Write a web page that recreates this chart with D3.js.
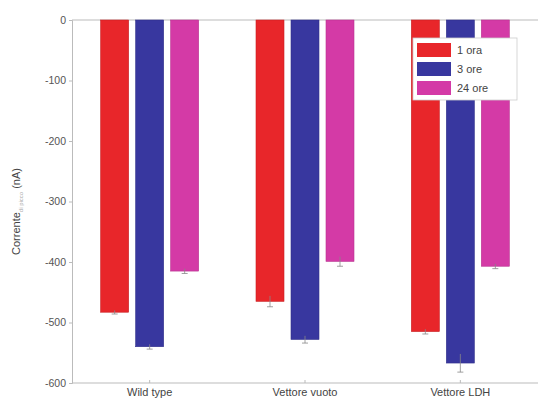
<!DOCTYPE html>
<html>
<head>
<meta charset="utf-8">
<script src="https://cdn.jsdelivr.net/npm/d3@7"></script>
<style>
  body { margin: 0; background: #fff; }
  svg { font-family: "Liberation Sans", Arial, sans-serif; }
</style>
</head>
<body>
<div id="chart"></div>
<script>
// Data
var groups = ["Wild type", "Vettore vuoto", "Vettore LDH"];
var seriesNames = ["1 ora", "3 ore", "24 ore"];
var values1h = [-483, -465, -515];
var values3h = [-540, -528, -567];
var values24h = [-415, -399, -407];
var err1h = [3, 9, 4];
var err3h = [4, 6, 15];
var err24h = [4, 8, 4];
var yTicks = [0, -100, -200, -300, -400, -500, -600];
var colors = ["#e8262a", "#38379f", "#d43aa6"];

var svgWidth = 538;
var svgHeight = 402;
var margin = { top: 20, right: 0, bottom: 19, left: 72 };
var chartWidth = svgWidth - margin.left - margin.right;
var chartHeight = svgHeight - margin.top - margin.bottom;
var groupSpan = 98;

var svg = d3.select("#chart").append("svg")
            .attr("width", svgWidth)
            .attr("height", svgHeight);

var chartGroup = svg.append("g")
                    .attr("transform", `translate(${margin.left}, ${margin.top})`);

// Scales
var x0 = d3.scaleBand().domain(groups).range([0, chartWidth]).padding(0);
var x1 = d3.scaleBand().domain(seriesNames).range([0, groupSpan]).paddingInner(0.2);
var yScale = d3.scaleLinear().domain([-600, 0]).range([chartHeight, 0]);

// Build rows
var allValues = [values1h, values3h, values24h];
var allErr = [err1h, err3h, err24h];
var rows = [];
groups.forEach(function(g, i) {
  seriesNames.forEach(function(s, j) {
    rows.push({ group: g, series: s, idx: j, value: allValues[j][i], err: allErr[j][i] });
  });
});

// Axis frame lines (top and bottom)
chartGroup.append("line")
  .attr("x1", 0).attr("x2", chartWidth).attr("y1", 0).attr("y2", 0)
  .attr("stroke", "#bbb").attr("stroke-width", 1);
chartGroup.append("line")
  .attr("x1", 0).attr("x2", chartWidth).attr("y1", chartHeight).attr("y2", chartHeight)
  .attr("stroke", "#bbb").attr("stroke-width", 1);

// Y axis
var yAxis = d3.axisLeft(yScale).tickValues(yTicks).tickFormat(d => String(d)).tickSize(3).tickPadding(3);
var yAxisG = chartGroup.append("g").call(yAxis);
yAxisG.select(".domain").attr("stroke", "#bbb");
yAxisG.selectAll(".tick line").attr("stroke", "#bbb");
yAxisG.selectAll("text").attr("fill", "#555").attr("font-size", "10.5px");

// X axis
var xAxis = d3.axisBottom(x0).tickSize(3).tickPadding(3);
var xAxisG = chartGroup.append("g")
  .attr("transform", `translate(0, ${chartHeight})`)
  .call(xAxis);
xAxisG.select(".domain").remove();
xAxisG.selectAll(".tick line").attr("stroke", "#bbb").attr("y2", -3);
xAxisG.selectAll("text").attr("fill", "#444").attr("font-size", "11px").attr("dy", "0.6em");

// Bars
var barOffset = (x0.bandwidth() - groupSpan) / 2;
var barX = d => x0(d.group) + barOffset + x1(d.series);
chartGroup.selectAll(".bar")
  .data(rows)
  .enter()
  .append("rect")
  .attr("class", "bar")
  .attr("x", barX)
  .attr("width", x1.bandwidth())
  .attr("y", yScale(0))
  .attr("height", d => yScale(d.value) - yScale(0))
  .attr("fill", d => colors[d.idx])
  .attr("stroke", d => d3.color(colors[d.idx]).darker(0.4))
  .attr("stroke-width", 0.6);

// Error bars
var errG = chartGroup.selectAll(".err")
  .data(rows)
  .enter()
  .append("g")
  .attr("class", "err");
errG.append("line")
  .attr("x1", d => barX(d) + x1.bandwidth() / 2)
  .attr("x2", d => barX(d) + x1.bandwidth() / 2)
  .attr("y1", d => yScale(d.value - d.err))
  .attr("y2", d => yScale(d.value + d.err))
  .attr("stroke", "#888").attr("stroke-width", 0.8);
errG.append("line")
  .attr("x1", d => barX(d) + x1.bandwidth() / 2 - 3)
  .attr("x2", d => barX(d) + x1.bandwidth() / 2 + 3)
  .attr("y1", d => yScale(d.value - d.err))
  .attr("y2", d => yScale(d.value - d.err))
  .attr("stroke", "#888").attr("stroke-width", 0.8);

// Y label
var yLabel = svg.append("text")
  .attr("transform", `translate(20, ${margin.top + chartHeight / 2 + 10}) rotate(-90)`)
  .attr("text-anchor", "middle")
  .attr("fill", "#444")
  .attr("font-size", "11px");
yLabel.append("tspan").text("Corrente");
yLabel.append("tspan").attr("font-size", "6px").attr("dy", "3").attr("fill", "#aaa").text("di picco");
yLabel.append("tspan").attr("dy", "-3").text(" (nA)");

// Legend
var legend = svg.append("g").attr("transform", "translate(413, 38)");
legend.append("rect")
  .attr("width", 104).attr("height", 62)
  .attr("fill", "#fff").attr("stroke", "#ccc").attr("stroke-width", 0.8);
seriesNames.forEach(function(s, j) {
  var row = legend.append("g").attr("transform", `translate(4, ${5 + j * 19})`);
  row.append("rect")
    .attr("width", 34).attr("height", 14)
    .attr("fill", colors[j]);
  row.append("text")
    .attr("x", 40).attr("y", 11)
    .attr("fill", "#444").attr("font-size", "11px")
    .text(s);
});
</script>
</body>
</html>
